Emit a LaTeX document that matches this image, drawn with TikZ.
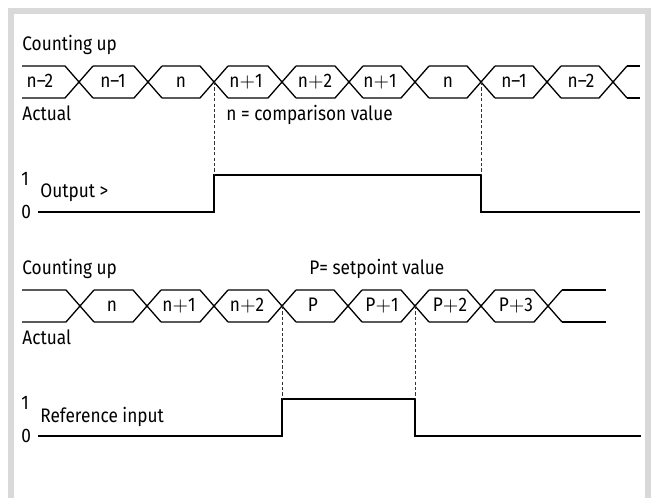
\documentclass[tikz,border=0pt]{standalone}
\usepackage{fontspec}
\setmainfont{Fira Sans}[FakeStretch=0.88]
\tikzset{
  bus/.style={line width=0.65pt, line join=miter},
  sig/.style={line width=1pt, line join=miter},
  guide/.style={dash pattern=on 1.6pt off 1.1pt, line width=0.45pt, black!80},
  lbl/.style={anchor=base west, inner sep=0pt},
  val/.style={anchor=base, inner sep=0pt}
}
\newcommand{\pl}{${+}$}
\begin{document}
\begin{tikzpicture}[x=0.5pt, y=-0.5pt, font=\fontsize{9.8}{11}\selectfont]
        \useasboundingbox (0,0) rectangle (651,498);
        % FRAME
        \fill[black!15] (8,8) rectangle (651,498);
        \fill[white] (14,14) rectangle (645,498);

        % COUNTING UP, OUTPUT
        \node[lbl] (cnt1) at (22,50) {Counting up};
        \foreach \c [count=\i, remember=\c as \p (initially 8)] in {79,148,214,282,349,415,481,547,613} {
            \coordinate (u\i) at (\c,82);
            \draw[bus] (\p+14,66) -- (\c-14,66) -- (\c+14,98)
                       (\p+14,98) -- (\c-14,98) -- (\c+14,66);
        }
        \draw[bus] (627,66) -- (640,66) (627,98) -- (640,98);
        \foreach \t/\x [count=\i] in {n–2/40, n–1/113, n/181, n\pl1/246, n\pl2/315, n\pl1/380, n/448, n–1/514, n–2/581}
            \node[val] (vu\i) at (\x,87.5) {\t};
        \node[lbl] (act1) at (22,120) {Actual};
        \node[lbl] (cmp) at (226,120) {n = comparison value};

        \node[lbl] (one1) at (21,185) {1};
        \node[lbl] (zero1) at (21,218) {0};
        \node[lbl] (out) at (40,197) {Output >};
        \coordinate (lo1) at (38,212);
        \coordinate (r1) at (214,175);
        \coordinate (f1) at (481,175);
        \coordinate (end1) at (640,212);
        \draw[sig] (lo1) -- (lo1 -| r1) -- (r1) -- (f1) -- (f1 |- end1) -- (end1);
        \draw[guide] (u3) -- (r1);
        \draw[guide] (u7) -- (f1);

        % COUNTING UP, REFERENCE INPUT
        \begin{scope}[yshift=-112pt]
            \node[lbl] (cnt2) at (22,50) {Counting up};
            \foreach \c [count=\i, remember=\c as \p (initially 8)] in {80,147,214,282,348,415,481,548} {
                \coordinate (w\i) at (\c,82);
                \draw[bus] (\p+14,66) -- (\c-14,66) -- (\c+14,98)
                           (\p+14,98) -- (\c-14,98) -- (\c+14,66);
            }
            \draw[bus] (562,66) -- (606,66) (562,98) -- (606,98);
            \foreach \t/\x [count=\i] in {n/112, n\pl1/179, n\pl2/247, P/313, P\pl1/382, P\pl2/450, P\pl3/516}
                \node[val] (vw\i) at (\x,87.5) {\t};
            \node[lbl] (act2) at (22,120) {Actual};
            \node[lbl] (set) at (309,50) {P= setpoint value};

            \node[lbl] (one2) at (21,185) {1};
            \node[lbl] (zero2) at (21,218) {0};
            \node[lbl] (ref) at (40,198) {Reference input};
            \coordinate (lo2) at (38,212);
            \coordinate (r2) at (282,175);
            \coordinate (f2) at (415,175);
            \coordinate (end2) at (641,212);
            \draw[sig] (lo2) -- (lo2 -| r2) -- (r2) -- (f2) -- (f2 |- end2) -- (end2);
            \draw[guide] (w4) -- (r2);
            \draw[guide] (w6) -- (f2);
        \end{scope}
    \end{tikzpicture}
\end{document}
